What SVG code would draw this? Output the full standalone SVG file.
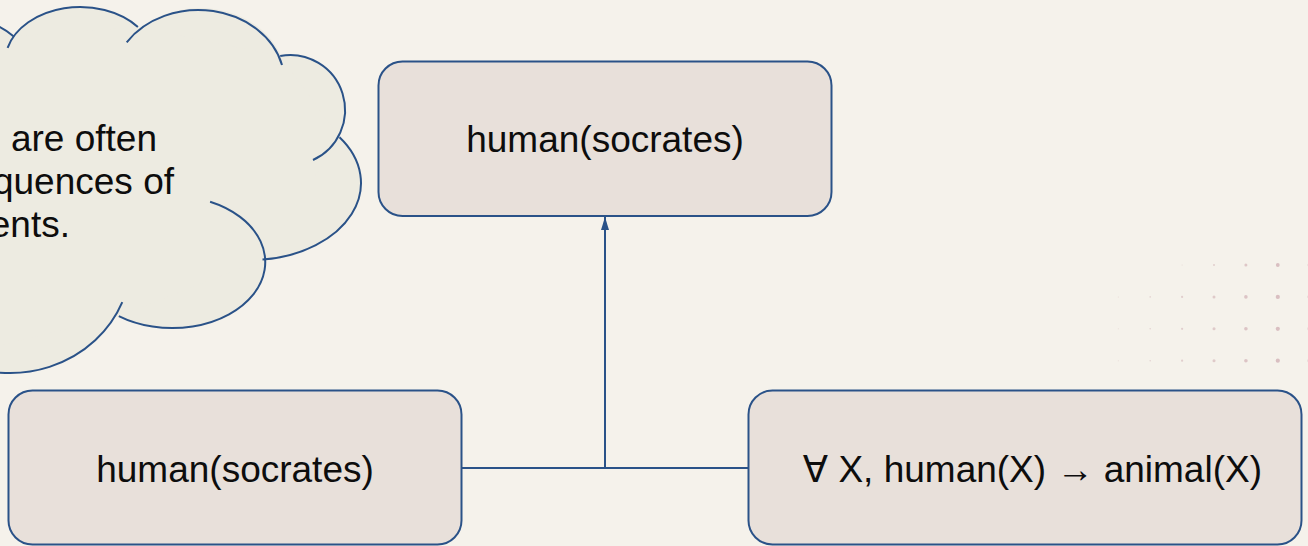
<svg xmlns="http://www.w3.org/2000/svg" width="1308" height="546" viewBox="0 0 1308 546">
  <style>
    .box { fill: #e8e0da; stroke: #2a5288; stroke-width: 2; }
    .lbl { font-family: "Liberation Sans", Arial, "DejaVu Sans", sans-serif; font-size: 37px; fill: #0d0d0d; }
    .wire { fill: none; stroke: #2a5288; stroke-width: 2; }
    .cloud-fill { fill: #edebe1; stroke: none; }
    .cloud-line { fill: none; stroke: #2a5288; stroke-width: 2; }
    .dot { fill: #d9bfc1; }
  </style>
  <defs>
    <marker id="arrow" viewBox="0 0 13 8" refX="13" refY="4" markerWidth="13" markerHeight="8" markerUnits="userSpaceOnUse" orient="auto">
      <path d="M0,0 L13,4 L0,8 Z" fill="#2a5288"/>
    </marker>
  </defs>

  <!-- page background -->
  <rect x="0" y="0" width="1308" height="546" fill="#f5f2eb"/>

  <!-- decorative dot grid -->
  <g id="dot-grid">
    <circle class="dot" cx="1182.1" cy="265" r="0.5" opacity="0.5"/>
    <circle class="dot" cx="1214" cy="265" r="1" opacity="0.7"/>
    <circle class="dot" cx="1245.9" cy="265" r="1.5" opacity="0.85"/>
    <circle class="dot" cx="1277.8" cy="265" r="1.9"/>
    <circle class="dot" cx="1309.7" cy="265" r="2"/>

    <circle class="dot" cx="1118.3" cy="296.9" r="0.5" opacity="0.5"/>
    <circle class="dot" cx="1150.2" cy="296.9" r="0.8" opacity="0.6"/>
    <circle class="dot" cx="1182.1" cy="296.9" r="1.1" opacity="0.7"/>
    <circle class="dot" cx="1214" cy="296.9" r="1.5" opacity="0.8"/>
    <circle class="dot" cx="1245.9" cy="296.9" r="1.8" opacity="0.9"/>
    <circle class="dot" cx="1277.8" cy="296.9" r="2.1"/>
    <circle class="dot" cx="1309.7" cy="296.9" r="2.1"/>

    <circle class="dot" cx="1118.3" cy="328.8" r="0.5" opacity="0.5"/>
    <circle class="dot" cx="1150.2" cy="328.8" r="0.8" opacity="0.6"/>
    <circle class="dot" cx="1182.1" cy="328.8" r="1.1" opacity="0.7"/>
    <circle class="dot" cx="1214" cy="328.8" r="1.5" opacity="0.8"/>
    <circle class="dot" cx="1245.9" cy="328.8" r="1.8" opacity="0.9"/>
    <circle class="dot" cx="1277.8" cy="328.8" r="2.1"/>
    <circle class="dot" cx="1309.7" cy="328.8" r="2.1"/>

    <circle class="dot" cx="1118.3" cy="360.7" r="0.5" opacity="0.5"/>
    <circle class="dot" cx="1150.2" cy="360.7" r="0.8" opacity="0.6"/>
    <circle class="dot" cx="1182.1" cy="360.7" r="1.1" opacity="0.7"/>
    <circle class="dot" cx="1214" cy="360.7" r="1.5" opacity="0.8"/>
    <circle class="dot" cx="1245.9" cy="360.7" r="1.8" opacity="0.9"/>
    <circle class="dot" cx="1277.8" cy="360.7" r="2.1"/>
    <circle class="dot" cx="1309.7" cy="360.7" r="2.1"/>
  </g>

  <!-- thought cloud, partly beyond the left edge -->
  <g id="cloud">
    <g class="cloud-fill">
      <ellipse cx="-30" cy="95" rx="70" ry="75"/>
      <ellipse cx="80" cy="62" rx="75" ry="55"/>
      <ellipse cx="200" cy="80" rx="86" ry="72"/>
      <circle cx="290" cy="110" r="55"/>
      <ellipse cx="251" cy="183" rx="110" ry="77"/>
      <ellipse cx="172" cy="262" rx="93" ry="66"/>
      <ellipse cx="10" cy="260" rx="121" ry="113"/>
      <polygon points="-100,27 13.8,36.6 137.9,27 280.2,55.9 339.5,137.3 262.5,259.6 118.8,316.1 -50.5,357.9 -100,360"/>
    </g>
    <path class="cloud-line" d="M-59.6,27 A70,75 0 0 1 13.8,36.6"/>
    <path class="cloud-line" d="M7.6,47.8 A75,55 0 0 1 137.9,27"/>
    <path class="cloud-line" d="M126.7,42.3 A86,72 0 0 1 282,65"/>
    <path class="cloud-line" d="M280.2,55.9 A55,55 0 0 1 313,160"/>
    <path class="cloud-line" d="M339.5,137.3 A110,77 0 0 1 262.5,259.6"/>
    <path class="cloud-line" d="M210.1,201.8 A93,66 0 1 1 118.8,316.1"/>
    <path class="cloud-line" d="M122.3,302.2 A121,113 0 0 1 -50.5,357.9"/>
    <text class="lbl" text-anchor="end" x="157" y="151">are often</text>
    <text class="lbl" text-anchor="end" x="174" y="194">quences of</text>
    <text class="lbl" text-anchor="end" x="70" y="237">ents.</text>
  </g>

  <!-- connectors: premises joined, conclusion drawn upward -->
  <g id="connectors">
    <line class="wire" x1="461.5" y1="468" x2="748.5" y2="468"/>
    <line class="wire" x1="605" y1="468" x2="605" y2="217" marker-end="url(#arrow)"/>
  </g>

  <g id="node-conclusion">
    <rect class="box" x="378.5" y="61.5" width="453" height="154.5" rx="24"/>
    <text class="lbl" text-anchor="middle" x="605" y="152">human(socrates)</text>
  </g>

  <g id="node-fact">
    <rect class="box" x="8.5" y="390.5" width="453" height="154" rx="24"/>
    <text class="lbl" text-anchor="middle" x="235" y="481.5">human(socrates)</text>
  </g>

  <g id="node-rule">
    <rect class="box" x="748.5" y="390.5" width="553" height="154" rx="24"/>
    <text class="lbl" text-anchor="end" x="1262" y="481.5">∀ X, human(X) → animal(X)</text>
  </g>
</svg>
